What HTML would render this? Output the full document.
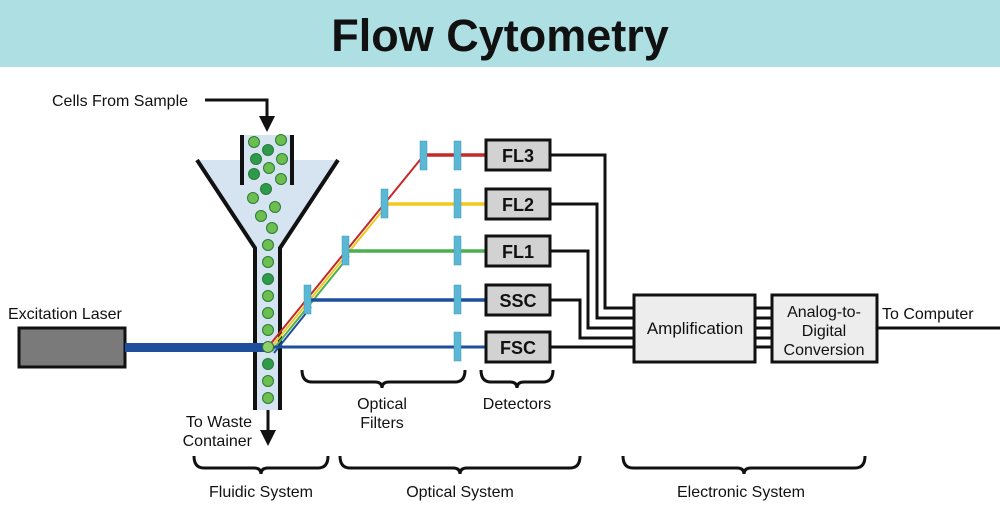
<!DOCTYPE html>
<html><head><style>
body{margin:0;background:#fff}
svg{display:block;font-family:"Liberation Sans",sans-serif}
</style></head><body>
<svg width="1000" height="525" viewBox="0 0 1000 525" xmlns="http://www.w3.org/2000/svg">
<rect x="0" y="0" width="1000" height="67" fill="#aee0e3"/>
<text x="500" y="51" text-anchor="middle" font-size="45" font-weight="bold" fill="#111">Flow Cytometry</text>

<path d="M197 160 L338 160 L280 248 L280 410 L255 410 L255 248 Z" fill="#d6e4f2"/>
<rect x="242" y="135" width="50" height="50" fill="#d6e4f2"/>
<path d="M197 160 L255 248 L255 410" fill="none" stroke="#111" stroke-width="4"/>
<path d="M338 160 L280 248 L280 410" fill="none" stroke="#111" stroke-width="4"/>
<line x1="242" y1="135" x2="242" y2="185" stroke="#111" stroke-width="4"/>
<line x1="292" y1="135" x2="292" y2="185" stroke="#111" stroke-width="4"/>

<text x="52" y="106" font-size="16" fill="#111">Cells From Sample</text>
<path d="M205 100 H267 V118" fill="none" stroke="#111" stroke-width="3"/>
<path d="M259 116 L275 116 L267 132 Z" fill="#111"/>

<!-- diagonals (parallel band) -->
<line x1="268" y1="347" x2="424" y2="155" stroke="#c62828" stroke-width="2"/>
<line x1="270" y1="349" x2="387" y2="205" stroke="#f2c81c" stroke-width="2"/>
<line x1="272" y1="351" x2="349" y2="256" stroke="#4caf50" stroke-width="2"/>
<line x1="274" y1="353" x2="311" y2="307" stroke="#1f4e9c" stroke-width="2"/>

<g stroke="#2a7a3a" stroke-width="1">
<circle cx="254" cy="142" r="5.5" fill="#6cbf4e"/><circle cx="281" cy="140" r="5.5" fill="#6cbf4e"/>
<circle cx="268" cy="150" r="5.5" fill="#2e9a4c"/><circle cx="256" cy="159" r="5.5" fill="#2e9a4c"/>
<circle cx="282" cy="159" r="5.5" fill="#6cbf4e"/><circle cx="269" cy="168" r="5.5" fill="#6cbf4e"/>
<circle cx="254" cy="174" r="5.5" fill="#2e9a4c"/><circle cx="281" cy="179" r="5.5" fill="#6cbf4e"/>
<circle cx="266" cy="189" r="5.5" fill="#2e9a4c"/><circle cx="253" cy="198" r="5.5" fill="#6cbf4e"/>
<circle cx="275" cy="207" r="5.5" fill="#6cbf4e"/><circle cx="261" cy="216" r="5.5" fill="#6cbf4e"/>
<circle cx="272" cy="228" r="5.5" fill="#6cbf4e"/>
<circle cx="268" cy="245" r="5.5" fill="#6cbf4e"/><circle cx="268" cy="262" r="5.5" fill="#6cbf4e"/>
<circle cx="268" cy="279" r="5.5" fill="#2e9a4c"/><circle cx="268" cy="296" r="5.5" fill="#6cbf4e"/>
<circle cx="268" cy="313" r="5.5" fill="#6cbf4e"/><circle cx="268" cy="330" r="5.5" fill="#6cbf4e"/>
<circle cx="268" cy="364" r="5.5" fill="#2e9a4c"/><circle cx="268" cy="381" r="5.5" fill="#6cbf4e"/>
<circle cx="268" cy="398" r="5.5" fill="#6cbf4e"/>
</g>

<text x="8" y="319" font-size="16" fill="#111">Excitation Laser</text>
<rect x="19" y="328" width="106" height="39" fill="#7a7a7a" stroke="#111" stroke-width="3"/>
<rect x="125" y="343" width="143" height="9" fill="#1f4e9c"/>
<line x1="270" y1="347" x2="486" y2="347" stroke="#1f4e9c" stroke-width="3"/>
<circle cx="268" cy="347" r="5.5" fill="#8fd06a" stroke="#2a7a3a" stroke-width="1"/>

<line x1="424" y1="155" x2="486" y2="155" stroke="#c62828" stroke-width="3.5"/>
<line x1="385" y1="204" x2="486" y2="204" stroke="#f2c81c" stroke-width="3.5"/>
<line x1="346" y1="251" x2="486" y2="251" stroke="#4caf50" stroke-width="3.5"/>
<line x1="308" y1="300" x2="486" y2="300" stroke="#1f4e9c" stroke-width="3.5"/>

<g fill="#5bb8d4" stroke="#3d97b5" stroke-width="0.5">
<rect x="420" y="141" width="7" height="29"/><rect x="381" y="189" width="7" height="29"/>
<rect x="342" y="236" width="7" height="29"/><rect x="304" y="285" width="7" height="29"/>
<rect x="454" y="141" width="7" height="29"/><rect x="454" y="189" width="7" height="29"/>
<rect x="454" y="236" width="7" height="29"/><rect x="454" y="285" width="7" height="29"/>
<rect x="454" y="332" width="7" height="29"/>
</g>

<g fill="#d2d2d2" stroke="#111" stroke-width="3">
<rect x="486" y="140" width="64" height="30"/><rect x="486" y="189" width="64" height="30"/>
<rect x="486" y="236" width="64" height="30"/><rect x="486" y="285" width="64" height="30"/>
<rect x="486" y="332" width="64" height="30"/>
</g>
<g font-size="18" font-weight="bold" fill="#111" text-anchor="middle">
<text x="518" y="162">FL3</text><text x="518" y="211">FL2</text><text x="518" y="258">FL1</text>
<text x="518" y="307">SSC</text><text x="518" y="354">FSC</text>
</g>

<g fill="none" stroke="#111" stroke-width="3">
<path d="M550 155 H605 V308 H634"/>
<path d="M550 204 H597 V318 H634"/>
<path d="M550 251 H588 V328 H634"/>
<path d="M550 300 H580 V338 H634"/>
<path d="M550 347 H634"/>
<path d="M755 308 H772 M755 318 H772 M755 328 H772 M755 338 H772 M755 347 H772"/>
<path d="M877 328 H1000"/>
</g>
<rect x="634" y="295" width="121" height="67" fill="#ededed" stroke="#111" stroke-width="3"/>
<rect x="772" y="295" width="105" height="67" fill="#ededed" stroke="#111" stroke-width="3"/>
<text x="695" y="334" font-size="17" text-anchor="middle" fill="#111">Amplification</text>
<g font-size="16" text-anchor="middle" fill="#111">
<text x="824" y="317">Analog-to-</text><text x="824" y="336">Digital</text><text x="824" y="355">Conversion</text>
</g>
<text x="882" y="319" font-size="16" fill="#111">To Computer</text>

<path d="M268 410 V432" stroke="#111" stroke-width="3"/>
<path d="M260 430 L276 430 L268 446 Z" fill="#111"/>
<g font-size="16" text-anchor="end" fill="#111"><text x="252" y="427">To Waste</text><text x="252" y="446">Container</text></g>

<g fill="none" stroke="#111" stroke-width="3">
<path d="M302 370 q0 12 10 12 H375 q7 0 7 6 q0 -6 7 -6 H455 q10 0 10 -12"/>
<path d="M481 370 q0 12 10 12 H510 q7 0 7 6 q0 -6 7 -6 H543 q10 0 10 -12"/>
<path d="M194 456 q0 12 10 12 H254 q7 0 7 6 q0 -6 7 -6 H318 q10 0 10 -12"/>
<path d="M340 456 q0 12 10 12 H453 q7 0 7 6 q0 -6 7 -6 H570 q10 0 10 -12"/>
<path d="M623 456 q0 12 10 12 H737 q7 0 7 6 q0 -6 7 -6 H855 q10 0 10 -12"/>
</g>
<g font-size="16" text-anchor="middle" fill="#111">
<text x="382" y="409">Optical</text><text x="382" y="428">Filters</text>
<text x="517" y="409">Detectors</text>
<text x="261" y="497">Fluidic System</text>
<text x="460" y="497">Optical System</text>
<text x="741" y="497">Electronic System</text>
</g>
</svg>
</body></html>
